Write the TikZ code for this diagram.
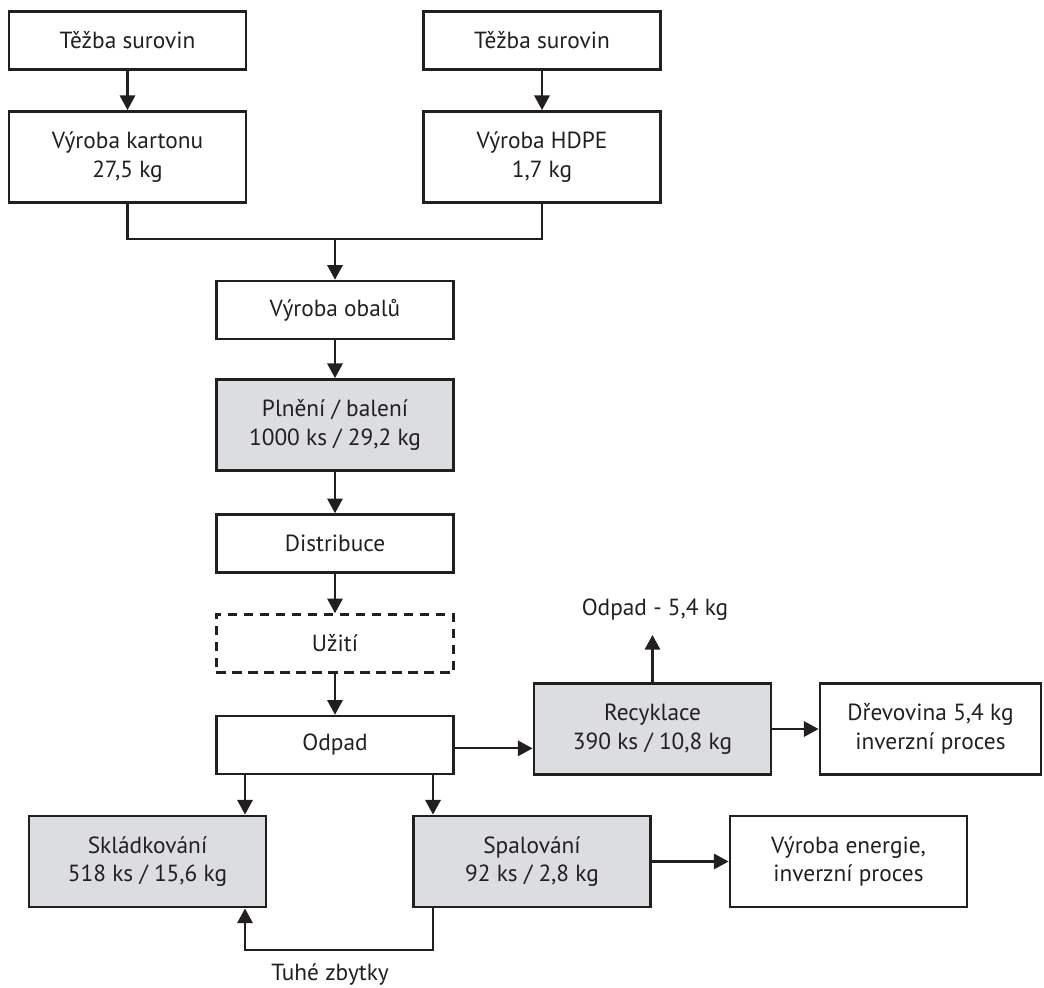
\documentclass[tikz,border=0pt]{standalone}
\usepackage{fontspec}
\setmainfont{PT Sans}
\usetikzlibrary{arrows.meta}
\definecolor{ink}{RGB}{35,31,32}
\definecolor{boxgray}{RGB}{220,221,224}
\tikzset{
  box/.style={draw=ink, line width=1.9pt, minimum width=178pt, inner sep=0pt, align=center,
    text=ink, font=\fontsize{17.5}{21.5}\selectfont},
  onel/.style={box, minimum height=43.5pt},
  twol/.style={box, minimum height=68.5pt},
  grayfill/.style={fill=boxgray},
  dashedbox/.style={dash pattern=on 7pt off 5pt},
  arr/.style={draw=ink, line width=1.6pt, -{Triangle[length=11pt,width=11.5pt]}},
  conn/.style={draw=ink, line width=1.6pt},
  lbl/.style={text=ink, font=\fontsize{17.5}{21.5}\selectfont, inner sep=0pt}
}
\begin{document}
\begin{tikzpicture}[x=0.75pt,y=-0.75pt]
\useasboundingbox (0,0) rectangle (1044,987);
% top row
\node[onel] (t1) at (127.5,40.5) {Těžba surovin};
\node[onel] (t2) at (542,40.5) {Těžba surovin};
\node[twol] (vk) at (127.5,157) {Výroba kartonu\\27,5 kg};
\node[twol] (vh) at (542,157) {Výroba HDPE\\1,7 kg};
% central column
\node[onel] (vo) at (335,310) {Výroba obalů};
\node[twol,grayfill] (pb) at (335,425) {Plnění / balení\\1000 ks / 29,2 kg};
\node[onel] (di) at (335,543.5) {Distribuce};
\node[onel,dashedbox] (uz) at (335,643.5) {Užití};
\node[onel] (od) at (335,745) {Odpad};
% right side
\node[twol,grayfill] (re) at (652.5,729) {Recyklace\\390 ks / 10,8 kg};
\node[twol,minimum width=166pt] (dr) at (930.5,729) {Dřevovina 5,4 kg\\inverzní proces};
\node[lbl] (odl) at (655,610) {Odpad - 5,4 kg};
\coordinate (odtip) at (652.5,635);
% bottom row
\node[twol,grayfill] (sk) at (147.5,861.5) {Skládkování\\518 ks / 15,6 kg};
\node[twol,grayfill] (sp) at (532,861.5) {Spalování\\92 ks / 2,8 kg};
\node[twol] (ve) at (848.5,861.5) {Výroba energie,\\inverzní proces};
\node[lbl] (tz) at (330,974) {Tuhé zbytky};
% helper coordinates
\coordinate (merge) at (335,239);
\coordinate (cL) at (245,950);
\coordinate (cR) at (433,950);
% connectors
\draw[arr] (t1) -- (vk);
\draw[arr] (t2) -- (vh);
\draw[conn] (vk.south) |- (merge) -| (vh.south);
\draw[arr] (merge) -- (vo.north);
\draw[arr] (vo) -- (pb);
\draw[arr] (pb) -- (di);
\draw[arr] (di) -- (uz);
\draw[arr] (uz) -- (od);
\draw[arr] ([yshift=-2.5pt]od.east) -- ([yshift=-2.5pt]od.east -| re.west);
\draw[arr] (re.north) -- (odtip);
\draw[arr] (re) -- (dr);
\draw[arr] (od.south -| cL) -- (sk.north -| cL);
\draw[arr] (od.south -| cR) -- (sp.north -| cR);
\draw[arr] (sp) -- (ve);
\draw[arr] (sp.south -| cR) -- (cR) -- (cL) -- (sk.south -| cL);
\end{tikzpicture}
\end{document}
